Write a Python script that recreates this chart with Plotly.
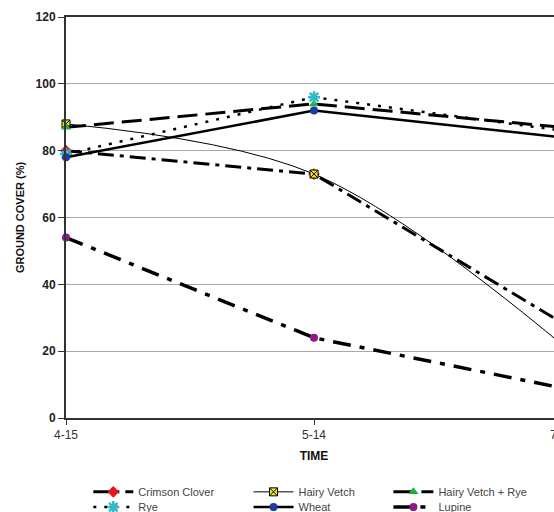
import plotly.graph_objects as go

# ---- data ----
categories = ["4-15", "5-14", "7-30"]
crimson_clover = [80, 73, 28.5]
hairy_vetch = [88, 73, 22]
hairy_vetch_rye = [87, 94, 87]
rye = [79, 96, 86]
wheat = [78, 92, 84]
lupine = [54, 24, 9]
y_ticks = [0, 20, 40, 60, 80, 100, 120]

FONT = "Liberation Sans, Arial, sans-serif"

series = [
    dict(name="Crimson Clover", y=crimson_clover, legend="legend",
         line=dict(color="black", width=3, dash="16px,6px,4px,6px"),
         marker=dict(symbol="diamond", color="#e8141c", size=9)),
    dict(name="Hairy Vetch", y=hairy_vetch, legend="legend2",
         line=dict(color="black", width=1, shape="spline", smoothing=1.0),
         marker=dict(symbol="square-x", color="#f2e81c", size=8,
                     line=dict(color="black", width=1))),
    dict(name="Hairy Vetch + Rye", y=hairy_vetch_rye, legend="legend3",
         line=dict(color="black", width=3, dash="20px,8px"),
         marker=dict(symbol="triangle-up", color="#22b03a", size=9)),
    dict(name="Rye", y=rye, legend="legend4",
         line=dict(color="black", width=2.5, dash="3px,8px"),
         marker=dict(symbol="asterisk-open", color="#35b8c8", size=10,
                     line=dict(color="#35b8c8", width=2.5))),
    dict(name="Wheat", y=wheat, legend="legend5",
         line=dict(color="black", width=2.5),
         marker=dict(symbol="circle", color="#2038a8", size=8)),
    dict(name="Lupine", y=lupine, legend="legend6",
         line=dict(color="black", width=3.5, dash="18px,9px,5px,9px"),
         marker=dict(symbol="circle", color="#8a1a8a", size=8)),
]

fig = go.Figure()
for s in series:
    fig.add_trace(go.Scatter(
        x=categories, y=s["y"], name=s["name"], mode="lines+markers",
        line=s["line"], marker=s["marker"], legend=s["legend"],
        cliponaxis=False, showlegend=True,
    ))

legend_common = dict(
    orientation="v", xanchor="left", yanchor="top",
    font=dict(family=FONT, size=11, color="#444"),
    bgcolor="rgba(0,0,0,0)", itemwidth=40, tracegroupgap=0,
)
col_x = [0.045, 0.368, 0.650]
row_y = [-0.148, -0.186]

fig.update_layout(
    width=600, height=512, showlegend=True,
    margin=dict(l=66, r=38, t=17, b=94, autoexpand=False),
    paper_bgcolor="white", plot_bgcolor="white",
    font=dict(family=FONT, color="#111"),
    legend=dict(x=col_x[0], y=row_y[0], **legend_common),
    legend2=dict(x=col_x[1], y=row_y[0], **legend_common),
    legend3=dict(x=col_x[2], y=row_y[0], **legend_common),
    legend4=dict(x=col_x[0], y=row_y[1], **legend_common),
    legend5=dict(x=col_x[1], y=row_y[1], **legend_common),
    legend6=dict(x=col_x[2], y=row_y[1], **legend_common),
    xaxis=dict(
        type="category", range=[0, 2], showgrid=False,
        showline=True, linecolor="#333", linewidth=2, mirror=True,
        ticks="outside", ticklen=5, tickcolor="#333",
        tickfont=dict(family=FONT, size=12, color="#333"),
        title=dict(text="<b>TIME</b>", standoff=10,
                   font=dict(family=FONT, size=12, color="#111")),
    ),
    yaxis=dict(
        range=[0, 120], tickvals=y_ticks, showgrid=True, gridcolor="#a8a8a8",
        gridwidth=1, zeroline=False,
        showline=True, linecolor="#333", linewidth=2,
        ticks="outside", ticklen=6, tickcolor="#333",
        tickfont=dict(family=FONT, size=12, color="#222", weight="bold"),
        title=dict(text="<b>GROUND COVER (%)</b>", standoff=9,
                   font=dict(family=FONT, size=11, color="#111")),
    ),
)

fig.write_html(
    "out.html",
    config={"displayModeBar": False},
    post_script="document.body.style.margin='0';document.body.style.overflow='hidden';"
                "document.documentElement.style.overflow='hidden';",
)
